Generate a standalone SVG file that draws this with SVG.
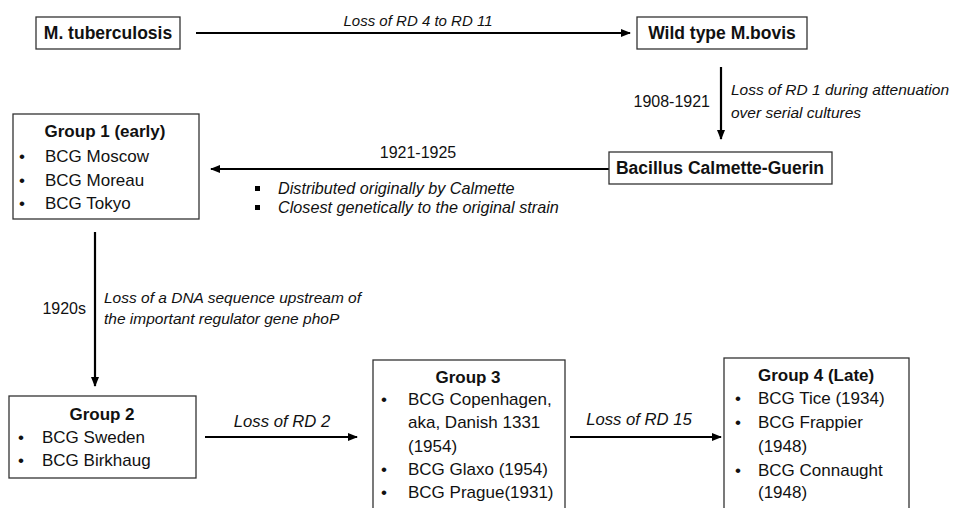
<svg xmlns="http://www.w3.org/2000/svg" width="956" height="508" viewBox="0 0 956 508">
<defs>
<style>
text{font-family:"Liberation Sans",Arial,sans-serif;fill:#111}
.box{fill:#fff;stroke:#333;stroke-width:1.3}
.hd{font-weight:bold;font-size:17.5px}
.gt{font-weight:bold;font-size:17px}
.li{font-size:17px}
.it{font-style:italic;font-size:15.5px}
.itb{font-style:italic;font-size:16.2px}
.itl{font-style:italic;font-size:16.7px}
.yr{font-size:16px}
.edge{stroke:#000;stroke-width:2.2;fill:none;marker-end:url(#ah)}
</style>
<marker id="ah" markerWidth="10" markerHeight="8" refX="9" refY="4" orient="auto" markerUnits="userSpaceOnUse">
<path d="M0,0 L10,4 L0,8 Z" fill="#000"/>
</marker>
</defs>
<rect width="956" height="508" fill="#fff"/>

<g id="connectors">
<line class="edge" x1="196" y1="33" x2="630" y2="33"/>
<text class="it" x="418" y="26" text-anchor="middle" style="font-size:15px">Loss of RD 4 to RD 11</text>

<line class="edge" x1="721" y1="67" x2="721" y2="139"/>
<text class="yr" x="710" y="107" text-anchor="end">1908-1921</text>
<text class="it" x="731" y="95">Loss of RD 1 during attenuation</text>
<text class="it" x="731" y="118">over serial cultures</text>

<line class="edge" x1="609" y1="169" x2="211" y2="169"/>
<text class="yr" x="418" y="158" text-anchor="middle">1921-1925</text>
<rect x="255" y="186" width="5" height="5" fill="#000"/>
<text class="itb" x="278" y="194">Distributed originally by Calmette</text>
<rect x="255" y="205" width="5" height="5" fill="#000"/>
<text class="itb" x="278" y="213">Closest genetically to the original strain</text>

<line class="edge" x1="95" y1="232" x2="95" y2="386"/>
<text class="yr" x="86" y="314" text-anchor="end">1920s</text>
<text class="it" x="104" y="303">Loss of a DNA sequence upstream of</text>
<text class="it" x="104" y="324">the important regulator gene phoP</text>

<line class="edge" x1="205" y1="437" x2="357" y2="437"/>
<text class="itl" x="282" y="427" text-anchor="middle">Loss of RD 2</text>

<line class="edge" x1="570" y1="437" x2="721" y2="437"/>
<text class="itl" x="639" y="425" text-anchor="middle">Loss of RD 15</text>
</g>

<g id="n_mtb">
<rect class="box" x="36" y="17" width="144" height="32"/>
<text class="hd" x="108" y="39" text-anchor="middle">M. tuberculosis</text>
</g>

<g id="n_bovis">
<rect class="box" x="637" y="17" width="170" height="32"/>
<text class="hd" x="722" y="39" text-anchor="middle">Wild type M.bovis</text>
</g>

<g id="n_bcg">
<rect class="box" x="609" y="152" width="223" height="32"/>
<text class="hd" x="720" y="174" text-anchor="middle">Bacillus Calmette-Guerin</text>
</g>

<g id="n_group1">
<rect class="box" x="13" y="114" width="186" height="105"/>
<text class="gt" x="105" y="137" text-anchor="middle">Group 1 (early)</text>
<text class="li" x="19" y="162">•</text><text class="li" x="45" y="162">BCG Moscow</text>
<text class="li" x="19" y="186">•</text><text class="li" x="45" y="186">BCG Moreau</text>
<text class="li" x="19" y="209">•</text><text class="li" x="45" y="209">BCG Tokyo</text>
</g>

<g id="n_group2">
<rect class="box" x="9" y="396" width="187" height="82"/>
<text class="gt" x="102" y="420" text-anchor="middle">Group 2</text>
<text class="li" x="18" y="443">•</text><text class="li" x="42" y="443">BCG Sweden</text>
<text class="li" x="18" y="466">•</text><text class="li" x="42" y="466">BCG Birkhaug</text>
</g>

<g id="n_group3">
<rect class="box" x="373" y="360" width="192" height="160"/>
<text class="gt" x="468" y="383" text-anchor="middle">Group 3</text>
<text class="li" x="381" y="405">•</text><text class="li" x="408" y="405">BCG Copenhagen,</text>
<text class="li" x="408" y="428">aka, Danish 1331</text>
<text class="li" x="408" y="452">(1954)</text>
<text class="li" x="381" y="475">•</text><text class="li" x="408" y="475">BCG Glaxo (1954)</text>
<text class="li" x="381" y="498">•</text><text class="li" x="408" y="498">BCG Prague(1931)</text>
</g>

<g id="n_group4">
<rect class="box" x="724" y="358" width="185" height="162"/>
<text class="gt" x="758" y="381">Group 4 (Late)</text>
<text class="li" x="735" y="404">•</text><text class="li" x="758" y="404">BCG Tice (1934)</text>
<text class="li" x="735" y="428">•</text><text class="li" x="758" y="428">BCG Frappier</text>
<text class="li" x="758" y="452">(1948)</text>
<text class="li" x="735" y="476">•</text><text class="li" x="758" y="476">BCG Connaught</text>
<text class="li" x="758" y="498">(1948)</text>
</g>
</svg>
